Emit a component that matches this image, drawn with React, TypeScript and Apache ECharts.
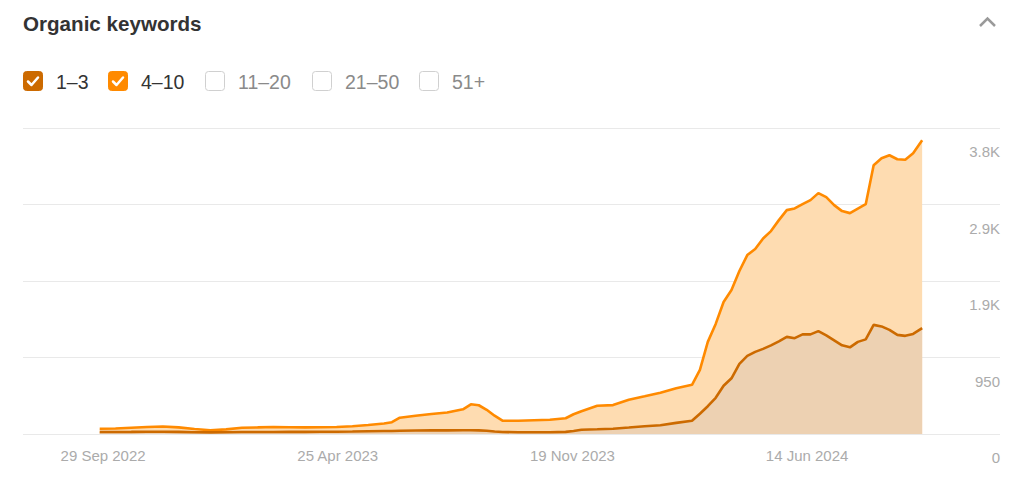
import { useEffect, useRef } from "react";
import * as echarts from "echarts";

const FONT = "'Liberation Sans', Arial, sans-serif";

// weekly / biweekly snapshots
const dates = [
  "2022-09-26", "2022-10-10", "2022-10-24", "2022-11-07", "2022-11-21", "2022-12-05",
  "2022-12-19", "2023-01-02", "2023-01-16", "2023-01-30", "2023-02-13", "2023-02-27",
  "2023-03-13", "2023-03-27", "2023-04-10", "2023-04-24", "2023-05-08", "2023-05-22",
  "2023-06-05", "2023-06-12", "2023-06-19", "2023-07-03", "2023-07-17", "2023-07-31",
  "2023-08-14", "2023-08-21", "2023-08-28", "2023-09-04", "2023-09-11", "2023-09-18",
  "2023-10-02", "2023-10-16", "2023-10-30", "2023-11-13", "2023-11-20", "2023-11-27",
  "2023-12-11", "2023-12-25", "2024-01-08", "2024-01-22", "2024-02-05", "2024-02-19",
  "2024-03-04", "2024-03-11", "2024-03-18", "2024-03-25", "2024-04-01", "2024-04-08",
  "2024-04-15", "2024-04-22", "2024-04-29", "2024-05-06", "2024-05-13", "2024-05-20",
  "2024-05-27", "2024-06-03", "2024-06-10", "2024-06-17", "2024-06-24", "2024-07-01",
  "2024-07-08", "2024-07-15", "2024-07-22", "2024-07-29", "2024-08-05", "2024-08-12",
  "2024-08-19", "2024-08-26", "2024-09-02", "2024-09-09", "2024-09-16", "2024-09-24",
];

// positions 1–3
const pos1to3 = [
  25, 25, 26, 28, 28, 26, 22, 20, 21, 25, 25, 25,
  26, 26, 28, 28, 31, 35, 37, 38, 41, 43, 45, 45,
  47, 47, 45, 41, 31, 25, 22, 22, 22, 26, 37, 53,
  59, 66, 81, 97, 109, 138, 165, 252, 345, 450, 599, 692,
  871, 970, 1020, 1057, 1101, 1150, 1206, 1190, 1237, 1237, 1277, 1225,
  1163, 1101, 1076, 1144, 1175, 1355, 1336, 1293, 1231, 1219, 1243, 1314,
];

// positions 4–10
const pos4to10 = [
  41, 44, 52, 59, 66, 56, 40, 27, 36, 53, 57, 62,
  58, 56, 56, 59, 66, 77, 93, 108, 161, 184, 203, 221,
  260, 322, 312, 260, 196, 140, 143, 149, 155, 170, 208, 230,
  292, 293, 344, 371, 403, 430, 446, 545, 799, 917, 1041, 1096,
  1153, 1252, 1277, 1370, 1419, 1506, 1574, 1611, 1617, 1667, 1714, 1716,
  1679, 1667, 1667, 1655, 1679, 1983, 2088, 2169, 2181, 2187, 2243, 2333,
];

const xTickDates = ["2022-09-29", "2023-04-25", "2023-11-19", "2024-06-14"];
const xTickLabels = ["29 Sep 2022", "25 Apr 2023", "19 Nov 2023", "14 Jun 2024"];
const yTickLabels = ["0", "950", "1.9K", "2.9K", "3.8K"];

const legendItems = [
  { name: "1–3", checked: true, color: "#cc6a00", x: 23 },
  { name: "4–10", checked: true, color: "#ff8a00", x: 108 },
  { name: "11–20", checked: false, color: "", x: 205 },
  { name: "21–50", checked: false, color: "", x: 312 },
  { name: "51+", checked: false, color: "", x: 419 },
];

const ts = (s: string) => new Date(s + "T00:00:00").getTime();

function buildGraphic() {
  const els: any[] = [
    {
      type: "text",
      left: 23,
      top: 13,
      style: { text: "Organic keywords", font: `bold 20.6px ${FONT}`, fill: "#333" },
    },
    {
      type: "polyline",
      shape: { points: [[980, 26], [987.5, 18.5], [995, 26]] },
      style: { stroke: "#9a9a9a", lineWidth: 2.5, fill: null },
    },
  ];
  legendItems.forEach((it) => {
    els.push({
      type: "rect",
      shape: { x: it.x + 0.5, y: 71.5, width: 19, height: 19, r: 3 },
      style: it.checked
        ? { fill: it.color, stroke: it.color, lineWidth: 1 }
        : { fill: "#fff", stroke: "#d0d0d0", lineWidth: 1 },
    });
    if (it.checked) {
      els.push({
        type: "polyline",
        shape: { points: [[it.x + 5, 81.5], [it.x + 8.5, 85], [it.x + 15, 77.5]] },
        style: { stroke: "#fff", lineWidth: 2.5, fill: null, lineCap: "round", lineJoin: "round" },
      });
    }
    els.push({
      type: "text",
      x: it.x + 33,
      y: 81.5,
      style: {
        text: it.name,
        font: `19.5px ${FONT}`,
        fill: it.checked ? "#333" : "#8a8a8a",
        verticalAlign: "middle",
      },
    });
  });
  return els;
}

export default function App() {
  const ref = useRef<HTMLDivElement>(null);

  useEffect(() => {
    if (!ref.current) return;
    const chart = echarts.init(ref.current, null, { renderer: "svg" });
    const tickTs = xTickDates.map(ts);
    // the 4–10 band sits on top of 1–3, so its outline is the running total
    const lower = dates.map((d, i) => [ts(d), pos1to3[i]]);
    const upper = dates.map((d, i) => [ts(d), pos1to3[i] + pos4to10[i]]);

    chart.setOption({
      animation: false,
      textStyle: { fontFamily: FONT },
      graphic: buildGraphic(),
      grid: { left: 23, right: 24, top: 128, bottom: 51, containLabel: false },
      xAxis: {
        type: "value",
        min: ts("2022-07-20"),
        max: ts("2024-12-02"),
        axisLine: { show: false },
        axisTick: { show: false },
        splitLine: { show: false },
        axisLabel: {
          customValues: tickTs,
          formatter: (v: number) => {
            const i = tickTs.indexOf(v);
            return i >= 0 ? xTickLabels[i] : "";
          },
          color: "#ababab",
          fontSize: 15,
          margin: 14,
          fontFamily: FONT,
        },
      },
      yAxis: {
        type: "value",
        position: "right",
        min: 0,
        max: 3800,
        interval: 950,
        axisLine: { show: false },
        axisTick: { show: false },
        splitLine: { lineStyle: { color: "#e9e9e9", width: 1 } },
        axisLabel: {
          inside: true,
          margin: 0,
          verticalAlign: "top",
          padding: [16, 0, 0, 0],
          color: "#ababab",
          fontSize: 15,
          fontFamily: FONT,
          formatter: (v: number) => yTickLabels[Math.round(v / 950)] ?? "",
        },
      },
      series: [
        {
          name: "4–10",
          type: "line",
          z: 2,
          symbol: "none",
          data: upper,
          lineStyle: { color: "#ff8a00", width: 2.6 },
          itemStyle: { color: "#ff8a00" },
          areaStyle: { color: "#fedcb1", opacity: 1 },
        },
        {
          name: "1–3",
          type: "line",
          z: 3,
          symbol: "none",
          data: lower,
          lineStyle: { color: "#cc6a00", width: 2.6 },
          itemStyle: { color: "#cc6a00" },
          areaStyle: { color: "#edd1b2", opacity: 1 },
        },
      ],
    });

    return () => chart.dispose();
  }, []);

  return (
    <div
      ref={ref}
      style={{ position: "absolute", left: 0, top: 0, width: 1024, height: 485, background: "#fff" }}
    />
  );
}
